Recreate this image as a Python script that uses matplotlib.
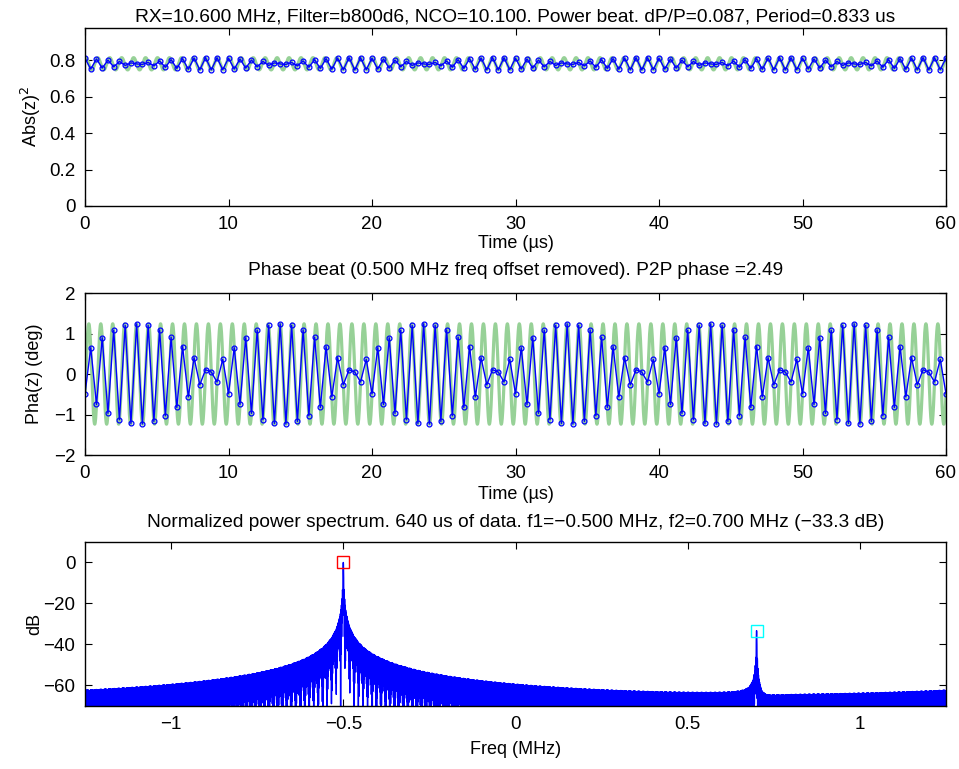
import numpy as np
import matplotlib.pyplot as plt
from matplotlib.ticker import FuncFormatter

plt.rcParams['font.family'] = ['Liberation Sans', 'DejaVu Sans']

# signal parameters
f1_mhz = -0.5          # main tone
f2_mhz = 0.7           # second tone
f2_rel_db = -33.3      # level of second tone
fs_mhz = 2.5           # sample rate (spectrum spans +-fs/2)
record_us = 640        # length of data used for the spectrum
mean_power = 0.78      # average of |z|^2
beat_phase = -0.415    # phase of the second tone (rad)
show_us = 60           # time span shown

time_ticks = [0, 10, 20, 30, 40, 50, 60]
pow_ticks = [0, 0.2, 0.4, 0.6, 0.8]
pha_ticks = [-2, -1, 0, 1, 2]
freq_ticks = [-1, -0.5, 0, 0.5, 1]
db_ticks = [-60, -40, -20, 0]

rel_amp = 10 ** (f2_rel_db / 20)
amp = np.sqrt(mean_power / (1 + rel_amp ** 2))


def signal(t):
    return amp * (np.exp(2j * np.pi * f1_mhz * t)
                  + rel_amp * np.exp(1j * (2 * np.pi * f2_mhz * t + beat_phase)))


# sampled data
n_all = int(record_us * fs_mhz)
t_all = np.arange(n_all) / fs_mhz
z_all = signal(t_all)

n_show = int(show_us * fs_mhz) + 1
t = np.arange(n_show) / fs_mhz
z = signal(t)
power = np.abs(z) ** 2
phase = np.degrees(np.angle(z * np.exp(-2j * np.pi * f1_mhz * t)))

# smooth fitted beat
tf = np.linspace(0, show_us, 6000)
zf = signal(tf)
power_fit = np.abs(zf) ** 2
phase_fit = np.degrees(np.angle(zf * np.exp(-2j * np.pi * f1_mhz * tf)))

# spectrum
nfft = 8192
spec = np.fft.fftshift(np.fft.fft(z_all, nfft))
freq = np.fft.fftshift(np.fft.fftfreq(nfft, 1 / fs_mhz))
db = 20 * np.log10(np.abs(spec) / np.abs(spec).max() + 1e-12)

W, H = 959, 769
fig = plt.figure(figsize=(W / 100, H / 100), dpi=100)


def axes_px(left, top, right, bottom):
    return fig.add_axes([left / W, 1 - bottom / H, (right - left) / W, (bottom - top) / H])


green = '#97d197'
blue = '#0000ff'
fmt = FuncFormatter(lambda v, p: ('%g' % v).replace('-', '\u2212'))
TS = 13.5   # tick label size
LS = 13     # axis label size
HS = 13.8   # title size


def style(ax):
    ax.tick_params(direction='in', top=True, right=True, length=5, labelsize=TS, pad=7)
    ax.xaxis.set_major_formatter(fmt)
    ax.yaxis.set_major_formatter(fmt)
    ax.yaxis.set_label_coords(-0.049, 0.5)
    for s in ax.spines.values():
        s.set_linewidth(1)


ax1 = axes_px(85, 28, 946, 206)
ax1.plot(tf, power_fit, color=green, lw=2.3)
ax1.plot(t, power, color=blue, lw=1, marker='o', ms=3.5, mfc='none', mew=0.9)
ax1.set_xlim(0, show_us)
ax1.set_ylim(0, 1.2 * power.max())
ax1.set_xticks(time_ticks)
ax1.set_yticks(pow_ticks)
ax1.set_xlabel('Time (µs)', fontsize=LS, labelpad=2)
ax1.set_ylabel('Abs(z)$^2$', fontsize=LS)
ax1.set_title('RX=10.600 MHz, Filter=b800d6, NCO=10.100. Power beat. dP/P=0.087, Period=0.833 us',
              fontsize=HS, pad=5)
style(ax1)

ax2 = axes_px(85, 293, 946, 455)
ax2.plot(tf, phase_fit, color=green, lw=2.3)
ax2.plot(t, phase, color=blue, lw=1, marker='o', ms=3.5, mfc='none', mew=0.9)
ax2.set_xlim(0, show_us)
ax2.set_ylim(-2, 2)
ax2.set_xticks(time_ticks)
ax2.set_yticks(pha_ticks)
ax2.set_xlabel('Time (µs)', fontsize=LS, labelpad=3)
ax2.set_ylabel('Pha(z) (deg)', fontsize=LS)
ax2.set_title('Phase beat (0.500 MHz freq offset removed). P2P phase =2.49', fontsize=HS, pad=13)
style(ax2)

ax3 = axes_px(85, 542, 946, 706)
ax3.plot(freq, db, color=blue, lw=1)
ax3.plot([f1_mhz], [0], marker='s', ms=8, mfc='none', mec='red', mew=1)
ax3.plot([f2_mhz], [f2_rel_db], marker='s', ms=8, mfc='none', mec='cyan', mew=1)
ax3.set_xlim(-fs_mhz / 2, fs_mhz / 2)
ax3.set_ylim(-70, 10)
ax3.set_xticks(freq_ticks)
ax3.set_yticks(db_ticks)
ax3.set_xlabel('Freq (MHz)', fontsize=LS, labelpad=6)
ax3.set_ylabel('dB', fontsize=LS)
ax3.set_title('Normalized power spectrum. 640 us of data. f1=\u22120.500 MHz, f2=0.700 MHz (\u221233.3 dB)',
              fontsize=HS, pad=11)
style(ax3)

fig.savefig('out.png', dpi=100)
